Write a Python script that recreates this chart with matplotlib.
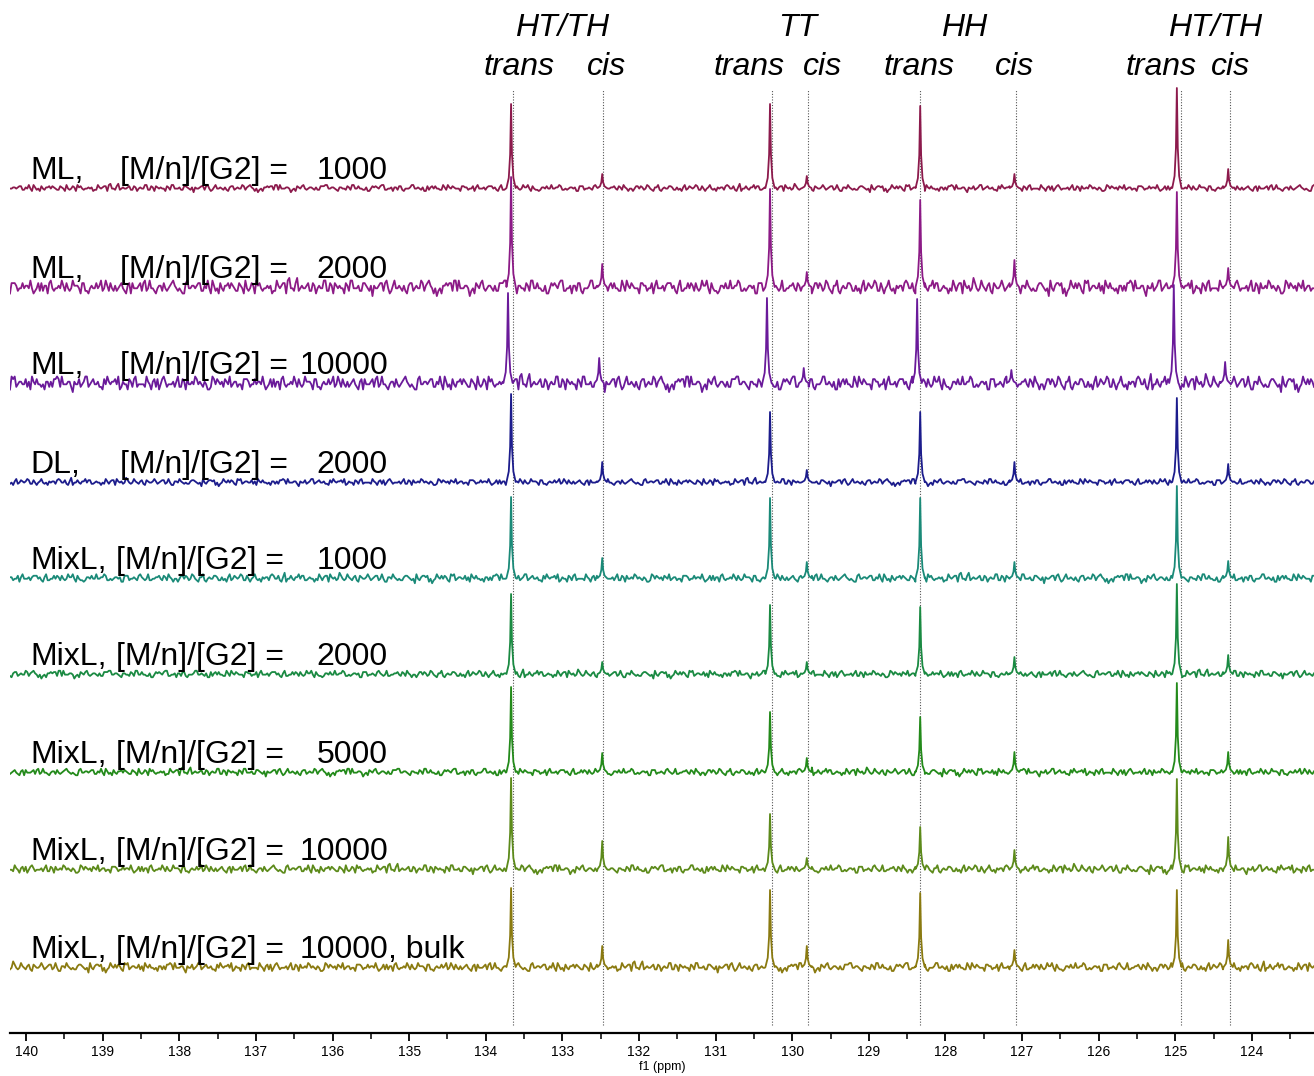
import numpy as np
import matplotlib
matplotlib.use("Agg")
import matplotlib.pyplot as plt

plt.rcParams['font.family'] = ['Liberation Sans', 'DejaVu Sans']

# ---- data ----
samples = ["ML", "ML", "ML", "DL", "MixL", "MixL", "MixL", "MixL", "MixL"]
ratios = ["1000", "2000", "10000", "2000", "1000", "2000", "5000", "10000", "10000"]
suffixes = ["", "", "", "", "", "", "", "", ", bulk"]

# peak positions (ppm): HT/TH trans, cis, TT trans, cis, HH trans, cis, HT/TH trans, cis
peak_ppm = [133.67, 132.48, 130.29, 129.81, 128.33, 127.10, 124.98, 124.31]
ppm_shift = [0.0, 0.0, 0.04, 0.0, 0.0, 0.0, 0.0, 0.0, 0.0]

# peak heights (arbitrary units) per spectrum
h_ml_1000 = [84, 14, 84, 12, 82, 14, 100, 19]
h_ml_2000 = [110, 23, 98, 15, 87, 27, 95, 19]
h_ml_10000 = [90, 25, 85, 15, 84, 13, 98, 21]
h_dl_2000 = [88, 20, 70, 12, 70, 20, 84, 18]
h_mix_1000 = [81, 20, 80, 16, 80, 16, 92, 17]
h_mix_2000 = [80, 12, 69, 12, 67, 17, 90, 19]
h_mix_5000 = [85, 19, 60, 14, 55, 20, 89, 20]
h_mix_10000 = [91, 28, 55, 11, 42, 19, 90, 32]
h_mix_bulk = [79, 21, 77, 21, 74, 17, 77, 27]
heights = [h_ml_1000, h_ml_2000, h_ml_10000, h_dl_2000, h_mix_1000,
           h_mix_2000, h_mix_5000, h_mix_10000, h_mix_bulk]

# baseline noise level of each spectrum
noise_level = [1.2, 2.6, 2.6, 1.2, 1.5, 1.3, 1.3, 1.5, 1.6]

# baseline wiggle, typed in as digits
noise_txt = ("4546357254635453647362544553746284635463544736255463"
             "7453645546372545335644736521456637745432564453366745"
             "3543574643245567342563447453265443735644653427455643"
             "5346634457243356445734455263446537345463524466374253"
             "4465332745563447324566435244576344235567438445362547"
             "3564425744365314566437445263546574432556734451464735"
             "4536745425463744352664734553624574452366435745426546"
             "5443665273445637546325447456335426645374434563574426")
noise1 = np.array([int(c) for c in noise_txt]) - 4.5
noise = np.empty(2 * len(noise1))
noise[0::2] = noise1
noise[1::2] = np.roll(noise1, 200)

# dotted guide lines (ppm) and header labels
guide_ppm = [133.64, 132.47, 130.27, 129.79, 128.33, 127.08, 124.93, 124.28]
groups = ["HT/TH", "TT", "HH", "HT/TH"]
group_ppm = [133.00, 129.93, 127.75, 124.48]
sub_labels = ["trans", "cis", "trans", "cis", "trans", "cis", "trans", "cis"]
sub_ppm = [133.56, 132.43, 130.57, 129.61, 128.34, 127.10, 125.18, 124.28]

colors = ["#8c1a4c", "#8c1a86", "#6a1a9a", "#1c1c8c", "#1a8a78",
          "#1a8a42", "#238a1a", "#5c8a1a", "#8a7a10"]

# ---- layout ----
XMAX, XMIN = 140.21, 123.19
PX = 1304 / (XMAX - XMIN)
offsets = [845, 746, 650, 551, 455, 359, 261, 164, 66]
roll = [0, 114, 262, 406, 542, 694, 46, 178, 334]
prof_dx = [-0.06, -0.03, -0.012, 0.0, 0.012, 0.03, 0.06]
prof_fr = [0.0, 0.12, 0.4, 1.0, 0.4, 0.12, 0.0]

fig = plt.figure(figsize=(13.14, 10.76), dpi=100)
ax = fig.add_axes([10 / 1314, 43 / 1076, 1304 / 1314, 1033 / 1076])

grid = np.linspace(XMAX, XMIN, len(noise))

ax.vlines(guide_ppm, 8, 943, colors="#555555", linestyles=(0, (1, 1.5)),
          lw=0.8, zorder=1)

for i in range(len(samples)):
    base = np.roll(noise, roll[i]) * noise_level[i]
    pk = np.array(peak_ppm) + ppm_shift[i]
    keep = np.ones(len(grid), bool)
    for p in pk:
        keep &= np.abs(grid - p) > 0.06
    xs = list(grid[keep])
    ys = list(base[keep])
    for p, h in zip(pk, heights[i]):
        for dx, fr in zip(prof_dx, prof_fr):
            xs.append(p + dx)
            ys.append(h * fr)
    order = np.argsort(xs)
    xs = np.array(xs)[order]
    ys = np.array(ys)[order] + offsets[i]
    ax.plot(xs, ys, color=colors[i], lw=1.3, zorder=2 + i)

    ty = offsets[i] + 9
    ax.text(XMAX - (30 - 10) / PX, ty, samples[i] + ",",
            fontsize=23, va="baseline", ha="left", zorder=20)
    bx = 120 if samples[i] != "MixL" else 116
    ax.text(XMAX - (bx - 10) / PX, ty, "[M/n]/[G2] =", fontsize=23,
            va="baseline", ha="left", zorder=20)
    ax.text(XMAX - (388 - 10) / PX, ty, ratios[i], fontsize=23,
            va="baseline", ha="right", zorder=20)
    if suffixes[i]:
        ax.text(XMAX - (388 - 10) / PX, ty, suffixes[i], fontsize=23,
                va="baseline", ha="left", zorder=20)

for g, x in zip(groups, group_ppm):
    ax.text(x, 1005, g, fontsize=23, style="italic", ha="center", va="center")
for s, x in zip(sub_labels, sub_ppm):
    ax.text(x, 966, s, fontsize=23, style="italic", ha="center", va="center")

for sp in ["top", "left", "right"]:
    ax.spines[sp].set_visible(False)
ax.spines["bottom"].set_linewidth(1.6)
ax.set_yticks([])
ax.set_xticks(np.arange(140, 123.5, -1))
ax.set_xticks(np.arange(139.5, 123.2, -0.5), minor=True)
ax.set_xlim(XMAX, XMIN)
ax.set_ylim(0, 1033)
ax.tick_params(axis="x", which="major", length=6, width=1.3, labelsize=10,
               pad=3)
ax.tick_params(axis="x", which="minor", length=4, width=1.1)
ax.set_xlabel("f1 (ppm)", fontsize=9, labelpad=1)

fig.savefig("out.png", dpi=100)
